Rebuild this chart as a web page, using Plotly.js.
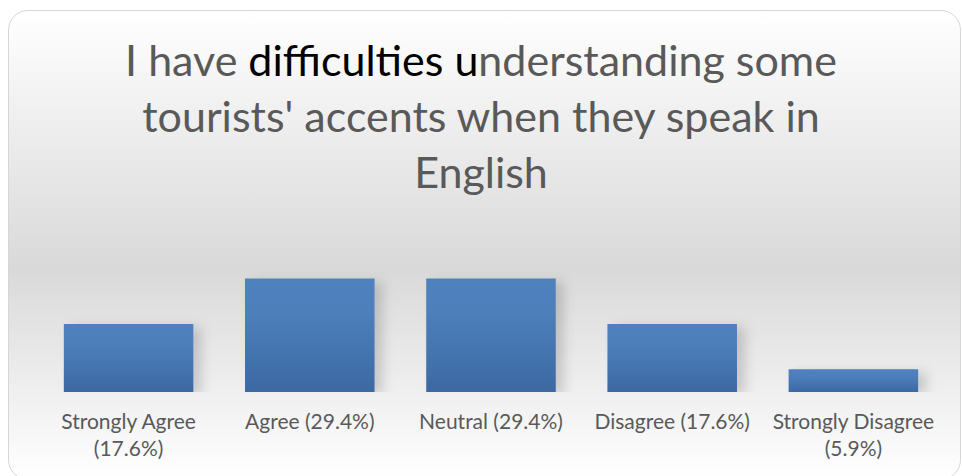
<!DOCTYPE html>
<html>
<head>
<meta charset="utf-8">
<script src="https://cdn.plot.ly/plotly-3.0.1.min.js"></script>
<style>
  html, body { margin: 0; padding: 0; background: #ffffff; }
  #wrap { position: absolute; left: 0; top: 0; width: 962px; height: 476px; }
  #frame {
    position: absolute; left: 8px; top: 10px; width: 953px; height: 470px;
    box-sizing: border-box; border: 1.5px solid #d6d6d6; border-radius: 20px;
    background: linear-gradient(to bottom, #ffffff 0%, #d9d9d9 55%, #ffffff 100%);
  }
  #chart { position: absolute; left: 0; top: 0; width: 962px; height: 476px; }
</style>
</head>
<body>
<div id="wrap">
  <div id="frame"></div>
  <div id="chart"></div>
</div>
<script>
const categories = ["Strongly Agree<br>(17.6%)", "Agree (29.4%)", "Neutral (29.4%)", "Disagree (17.6%)", "Strongly Disagree<br>(5.9%)"];
const values = [17.6, 29.4, 29.4, 17.6, 5.9];
const titleText = 'I have <span style="color:#000000">difficulties u</span>nderstanding some<br>tourists\' accents when they speak in<br>English';

const trace = {
  type: 'bar',
  x: categories,
  y: values,
  width: 0.715,
  marker: { color: '#4674b0', line: { width: 0 } },
  hoverinfo: 'none'
};

const layout = {
  width: 962,
  height: 476,
  paper_bgcolor: 'rgba(0,0,0,0)',
  plot_bgcolor: 'rgba(0,0,0,0)',
  margin: { l: 38, r: 18, t: 257, b: 84 },
  showlegend: false,
  font: { family: 'Lato, "Open Sans", sans-serif', color: '#595959' },
  title: {
    text: titleText,
    font: { family: 'Lato, "Open Sans", sans-serif', size: 43, color: '#595959' },
    x: 0.5, xanchor: 'center',
    y: 0.84, yanchor: 'top', yref: 'container'
  },
  xaxis: {
    type: 'category',
    showgrid: false, zeroline: false, showline: false,
    ticks: '', ticklabelstandoff: 15,
    tickfont: { size: 21, color: '#595959', family: 'Lato, "Open Sans", sans-serif' }
  },
  yaxis: {
    range: [0, 35],
    visible: false,
    showgrid: false, zeroline: false
  },
  bargap: 0.285
};

Plotly.newPlot('chart', [trace], layout, { displayModeBar: false, staticPlot: true }).then(function (gd) {
  const svg = gd.querySelector('svg.main-svg');
  const ns = 'http://www.w3.org/2000/svg';
  let defs = svg.querySelector('defs');
  if (!defs) { defs = document.createElementNS(ns, 'defs'); svg.insertBefore(defs, svg.firstChild); }
  const grad = document.createElementNS(ns, 'linearGradient');
  grad.setAttribute('id', 'barGrad');
  grad.setAttribute('x1', '0'); grad.setAttribute('y1', '0');
  grad.setAttribute('x2', '0'); grad.setAttribute('y2', '1');
  [['0%', '#4f81bd'], ['30%', '#4d7fbb'], ['100%', '#3c69a2']].forEach(function (s) {
    const st = document.createElementNS(ns, 'stop');
    st.setAttribute('offset', s[0]); st.setAttribute('stop-color', s[1]);
    grad.appendChild(st);
  });
  defs.appendChild(grad);
  const filt = document.createElementNS(ns, 'filter');
  filt.setAttribute('id', 'barShadow');
  filt.setAttribute('x', '-20%'); filt.setAttribute('y', '-20%');
  filt.setAttribute('width', '150%'); filt.setAttribute('height', '150%');
  const ds = document.createElementNS(ns, 'feDropShadow');
  ds.setAttribute('dx', '8'); ds.setAttribute('dy', '3');
  ds.setAttribute('stdDeviation', '6');
  ds.setAttribute('flood-color', '#000000'); ds.setAttribute('flood-opacity', '0.16');
  filt.appendChild(ds);
  defs.appendChild(filt);
  gd.querySelectorAll('.bars .point path').forEach(function (p) {
    p.style.fill = 'url(#barGrad)';
    p.setAttribute('filter', 'url(#barShadow)');
  });
});
</script>
</body>
</html>
